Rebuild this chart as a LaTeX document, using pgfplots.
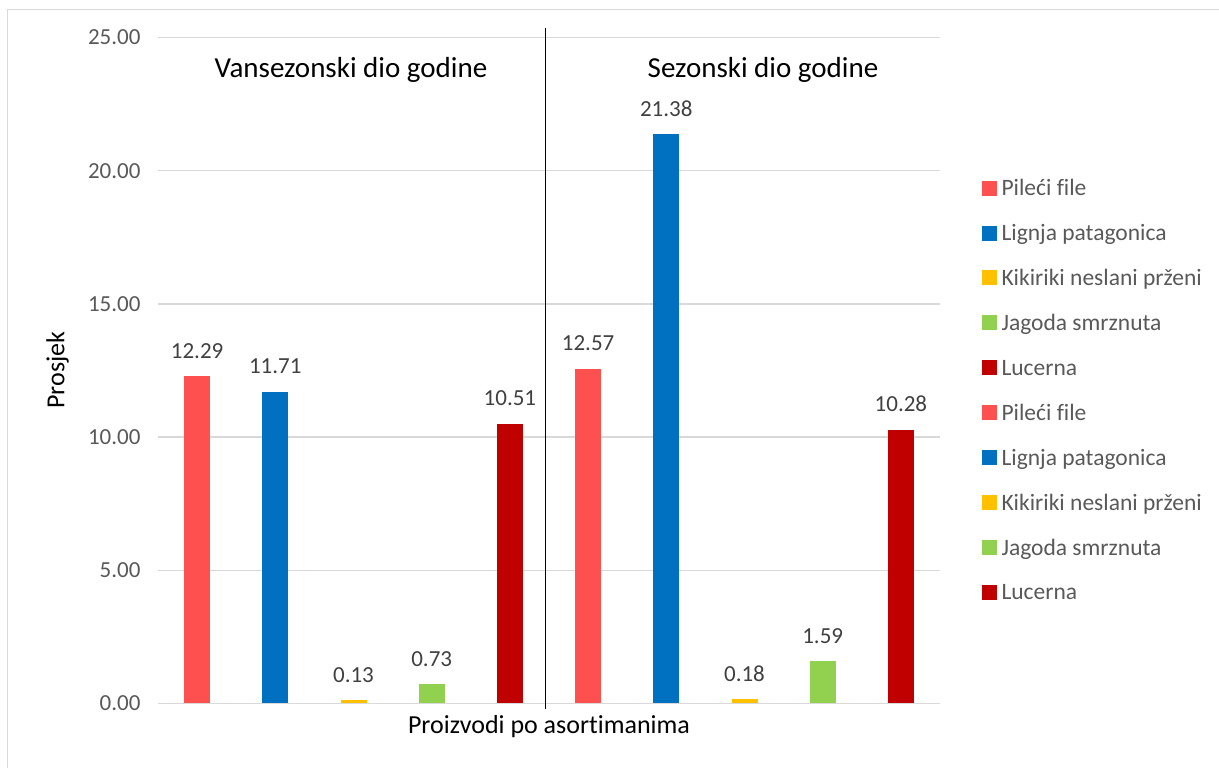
\documentclass[border=0pt]{standalone}
\usepackage{pgfplots}
\pgfplotsset{compat=1.18}
\usepackage{fontspec}
\setmainfont{Carlito}[Ligatures=NoCommon]
\definecolor{cRed}{HTML}{FF5050}
\definecolor{cBlue}{HTML}{0070C0}
\definecolor{cYel}{HTML}{FFC000}
\definecolor{cGrn}{HTML}{92D050}
\definecolor{cDRed}{HTML}{C00000}
\definecolor{tickgray}{HTML}{595959}
\definecolor{gridgray}{HTML}{D9D9D9}
\definecolor{labgray}{HTML}{404040}
\pgfplotsset{
  sqlegend/.style={legend image code/.code={\fill[##1] (0pt,-7.5pt) rectangle (15pt,7.5pt);}}
}
\begin{document}
\begin{tikzpicture}[x=1pt,y=1pt]
\useasboundingbox (0,0) rectangle (1219,768);
\draw[gridgray, line width=1pt] (7.5,0) -- (7.5,758.5) -- (1219,758.5);
\begin{axis}[
  at={(158pt,64.5pt)}, anchor=south west,
  scale only axis, width=782pt, height=666pt,
  xmin=-0.5, xmax=9.5, ymin=0, ymax=25,
  ybar, bar width=26pt, bar shift=0pt,
  axis line style={draw=none},
  major tick length=0pt,
  xtick=\empty,
  ytick={0,5,10,15,20,25},
  ymajorgrids, grid style={gridgray, line width=1.3pt},
  yticklabel style={font=\fontsize{23}{27}\selectfont, text=tickgray, xshift=-14pt,
    /pgf/number format/fixed, /pgf/number format/fixed zerofill,
    /pgf/number format/precision=2, /pgf/number format/assume math mode=true},
  nodes near coords={\pgfmathprintnumber[fixed,fixed zerofill,precision=2,assume math mode=true]{\pgfplotspointmeta}},
  nodes near coords style={font=\fontsize{23}{27}\selectfont, text=labgray, anchor=base, yshift=17.7pt},
  clip=false,
  every axis plot/.append style={draw=none, sqlegend},
  legend cell align=left,
  legend style={at={(axis description cs:1.049,0.794)}, anchor=north west, draw=none, fill=none,
    font=\fontsize{23.5}{27}\selectfont, text=tickgray, row sep=22.4pt, column sep=3pt,
    nodes={text height=17pt}},
]
\addplot[fill=cRed] coordinates {(0,12.29)};
\addplot[fill=cBlue] coordinates {(1,11.71)};
\addplot[fill=cYel] coordinates {(2,0.13)};
\addplot[fill=cGrn] coordinates {(3,0.73)};
\addplot[fill=cDRed] coordinates {(4,10.51)};
\addplot[fill=cRed] coordinates {(5,12.57)};
\addplot[fill=cBlue] coordinates {(6,21.38)};
\addplot[fill=cYel] coordinates {(7,0.18)};
\addplot[fill=cGrn] coordinates {(8,1.59)};
\addplot[fill=cDRed] coordinates {(9,10.28)};
\legend{Pileći file, Lignja patagonica, Kikiriki neslani prženi, Jagoda smrznuta, Lucerna,
        Pileći file, Lignja patagonica, Kikiriki neslani prženi, Jagoda smrznuta, Lucerna}
\draw[black, line width=1pt] (axis cs:4.46,-0.19) -- (axis cs:4.46,25.34);
\end{axis}
\node[anchor=base, font=\fontsize{29}{34}\selectfont] at (351,690) {Vansezonski dio godine};
\node[anchor=base, font=\fontsize{29}{34}\selectfont] at (763,690) {Sezonski dio godine};
\node[rotate=90, font=\fontsize{26}{31}\selectfont] at (57.5,398) {Prosjek};
\node[anchor=base, font=\fontsize{26}{31}\selectfont] at (549,34) {Proizvodi po asortimanima};
\end{tikzpicture}
\end{document}
